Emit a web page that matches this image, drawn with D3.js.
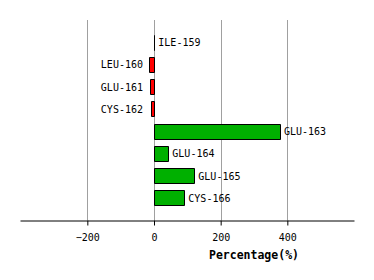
<!DOCTYPE html>
<html><head><meta charset="utf-8">
<script src="https://cdn.jsdelivr.net/npm/d3@7"></script>
<style>body{margin:0;background:#fff}svg{display:block}</style>
</head><body>
<script>
const categories = ["ILE-159","LEU-160","GLU-161","CYS-162","GLU-163","GLU-164","GLU-165","CYS-166"];
const values = [1, -15, -12, -9, 378, 43, 121, 91];
const tickValues = [-200, 0, 200, 400];
const xTitle = "Percentage(%)";

const W = 374, H = 280;
const svg = d3.select("body").append("svg").attr("width", W).attr("height", H);
const x = d3.scaleLinear().domain([-402, 600]).range([20, 354]);
const y = d3.scalePoint().domain(categories).range([20, 220]).padding(1);
const plotTop = 20, plotBottom = 220;

svg.append("g").selectAll("line").data(tickValues).join("line")
  .attr("x1", d => Math.round(x(d)) + 0.5).attr("x2", d => Math.round(x(d)) + 0.5)
  .attr("y1", plotTop).attr("y2", plotBottom)
  .attr("stroke", "#a0a0a0").attr("stroke-width", 1);

const bh = 15;
svg.append("g").selectAll("path").data(values).join("path")
  .attr("d", (d, i) => {
    const x0 = Math.round(x(Math.min(0, d))) + 0.5;
    const w = Math.round(Math.abs(x(d) - x(0)));
    const y0 = Math.round(y(categories[i]) - bh / 2) + 0.5;
    return `M${x0},${y0}h${w}v${bh}h${-w}Z`;
  })
  .attr("fill", d => d < 0 ? "#ff0000" : "#00b000")
  .attr("stroke", "#000").attr("stroke-width", 1);

svg.append("g").selectAll("text").data(values).join("text")
  .attr("x", d => d < 0 ? x(0) - 11 : x(d) + 4)
  .attr("y", (d, i) => y(categories[i]))
  .attr("dy", "0.4em")
  .attr("text-anchor", d => d < 0 ? "end" : "start")
  .attr("font-family", "DejaVu Sans Mono").attr("font-size", 10)
  .text((d, i) => categories[i]);

const ax = svg.append("g").attr("transform", `translate(0,${plotBottom + 0.5})`)
  .call(d3.axisBottom(x).tickValues(tickValues).tickSize(5).tickPadding(8).tickSizeOuter(0));
ax.select(".domain").attr("stroke", "#000");
ax.selectAll(".tick line").attr("stroke", "#000");
ax.selectAll("text").attr("font-family", "DejaVu Sans Mono").attr("font-size", 10).attr("fill", "#000");

svg.append("text").attr("x", 254).attr("y", 259).attr("text-anchor", "middle")
  .attr("font-family", "DejaVu Sans Mono").attr("font-weight", "bold").attr("font-size", 11.5)
  .text(xTitle);
</script>
</body></html>
